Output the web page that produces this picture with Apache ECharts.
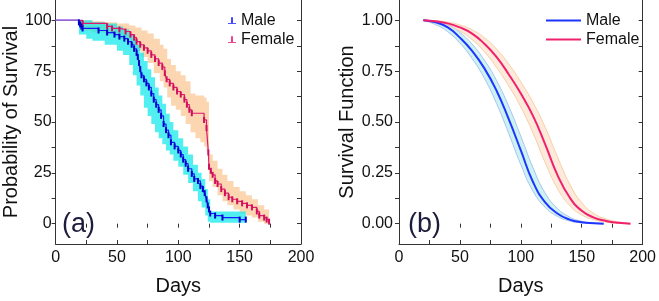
<!DOCTYPE html>
<html lang="en">
<head>
<meta charset="UTF-8">
<title>Survival</title>
<style>
html, body { margin: 0; padding: 0; background: #fff; }
#main { width: 659px; height: 301px; }
</style>
<script src="https://cdn.jsdelivr.net/npm/echarts@6/dist/echarts.min.js"></script>
</head>
<body>
<div id="main"></div>
<script>
// (a) Kaplan-Meier estimate, % surviving
var maleKmDays = [0, 19, 20, 21, 22, 35, 42, 48, 52, 56, 59, 62, 64, 66, 67, 68, 69, 70, 72, 74, 76, 78, 80, 82, 84, 86, 88, 90, 92, 94, 97, 100, 102, 104, 106, 108, 111, 113, 116, 118, 120, 121.5, 123, 124, 125, 126, 130, 136, 150, 155];
var maleKmVals = [100, 99, 98, 97, 96, 95, 94, 93, 92, 91, 89.5, 88, 86, 84, 82, 79, 76, 73, 71, 69, 67, 64, 61, 58.5, 56, 53, 49, 46, 43.5, 40, 38, 36, 34, 31.5, 29.5, 27, 24.5, 22, 21, 18.5, 17, 15, 12, 9, 7, 5, 4, 3, 2, 2];
var femKmDays = [0, 22, 42, 46, 52, 57, 61, 64, 66, 69, 72, 75, 78, 81, 84, 87, 89, 90.5, 93, 96, 99, 102, 105, 107, 109, 111, 121, 123, 124.5, 125, 126.5, 128, 130, 132, 135, 138, 141, 144, 148, 152, 156, 160, 164, 166, 170, 172, 174];
var femKmVals = [100, 98.5, 97, 96, 95.5, 94.5, 93, 91.5, 89.5, 88, 86.5, 85, 83, 81, 79, 77, 74, 71, 69, 67, 65, 63.5, 61, 58.5, 56, 54.3, 51, 47, 35, 28, 26, 24, 21, 19.5, 17, 15, 13, 12, 11, 10, 9, 8, 6, 4, 3, 2, 1];

// (a) confidence bands
var maleCiDays = [19, 25, 30, 40, 50, 55, 60, 63, 66, 69, 72, 75, 78, 81, 84, 87, 90, 93, 96, 100, 104, 108, 112, 116, 119, 122, 124, 126, 155];
var maleCiLo = [93, 91, 90, 88, 85, 83, 78, 73, 68, 63, 57, 53, 49, 45, 42, 39, 36, 34, 31, 28, 24, 20, 16, 11, 8, 4, 1, 0.5, 0.5];
var maleCiHi = [100, 100, 99, 98.5, 97, 95.5, 93, 91, 88, 84, 80, 76, 72, 67, 63, 59, 54, 50, 46, 42, 38, 34, 29, 25, 22, 17, 12, 6, 6];
var femCiDays = [20, 30, 40, 50, 60, 65, 70, 75, 80, 85, 88, 91, 94, 98, 102, 106, 110, 114, 118, 121, 123, 125, 128, 132, 136, 140, 145, 150, 155, 160, 165, 170, 174];
var femCiLo = [95, 94, 93, 91, 88, 85, 82, 79, 74, 70, 67, 62, 58, 56, 53, 49, 45, 42, 40, 38, 36, 21, 18, 14, 11, 9, 7, 5, 4, 3, 1, 0, 0];
var femCiHi = [100, 99.5, 99, 98.5, 97.5, 96.5, 95, 93.5, 91, 88, 86, 81, 78, 75, 73, 70, 64, 63, 63, 62, 60, 34, 31, 27, 24, 21, 18, 16, 14, 12, 9, 7, 7];

// (b) fitted survival function with bands
var maleFitDays = [20, 30, 40, 50, 60, 70, 80, 90, 100, 110, 120, 130, 140, 150, 160, 168];
var maleFit = [1.0, 0.99, 0.965, 0.915, 0.85, 0.765, 0.655, 0.515, 0.36, 0.205, 0.105, 0.05, 0.02, 0.007, 0.002, 0];
var maleFitHi = [1.0, 0.995, 0.978, 0.94, 0.883, 0.805, 0.705, 0.578, 0.43, 0.275, 0.15, 0.075, 0.033, 0.012, 0.004, 0.001];
var maleFitLo = [1.0, 0.979, 0.944, 0.888, 0.812, 0.716, 0.592, 0.445, 0.29, 0.16, 0.08, 0.036, 0.013, 0.004, 0.001, 0];
var femFitDays = [20, 30, 40, 50, 60, 70, 80, 90, 100, 110, 120, 130, 140, 150, 160, 170, 180, 190];
var femFit = [1.0, 0.995, 0.985, 0.965, 0.935, 0.885, 0.82, 0.735, 0.64, 0.53, 0.39, 0.24, 0.13, 0.063, 0.03, 0.013, 0.004, 0];
var femFitHi = [1.0, 0.998, 0.991, 0.977, 0.953, 0.915, 0.859, 0.786, 0.697, 0.596, 0.474, 0.33, 0.196, 0.103, 0.05, 0.023, 0.009, 0.0025];
var femFitLo = [1.0, 0.989, 0.973, 0.947, 0.905, 0.846, 0.769, 0.678, 0.574, 0.446, 0.3, 0.174, 0.09, 0.043, 0.02, 0.0075, 0.0016, 0];

// axis ticks
var xTicks = [0, 25, 50, 75, 100, 125, 150, 175, 200];
var xLabels = [0, 50, 100, 150, 200];
var yTicksA = [0, 12.5, 25, 37.5, 50, 62.5, 75, 87.5, 100];
var yLabelsA = [0, 25, 50, 75, 100];
var yTicksB = [0, 0.125, 0.25, 0.375, 0.5, 0.625, 0.75, 0.875, 1];
var yLabelsB = [0, 0.25, 0.5, 0.75, 1];

var font = '"Liberation Sans", Arial, sans-serif';
var ink = '#111';
var frame = '#333';

function zip(a, b) {
	return a.map(function (v, i) { return [v, b[i]]; });
}
function triples(d, lo, hi) {
	return d.map(function (v, i) { return [v, lo[i], hi[i]]; });
}

function axesFor(g, yMin, yMax, yTicks, yLabels, yFmt, yName, yGap, yMargin) {
	var xs = [{
		gridIndex: g, type: 'value', min: 0, max: 200, position: 'bottom',
		axisLine: { onZero: false, lineStyle: { color: frame, width: 1 } },
		axisTick: { inside: true, length: 4, customValues: xTicks, lineStyle: { color: frame } },
		axisLabel: { customValues: xLabels, margin: 6, fontSize: 16, color: ink, fontFamily: font },
		splitLine: { show: false },
		name: 'Days', nameLocation: 'middle', nameGap: 32,
		nameTextStyle: { fontSize: 20, color: ink, fontFamily: font }
	}, {
		gridIndex: g, type: 'value', min: 0, max: 200, position: 'top',
		axisLine: { show: false },
		axisTick: { inside: true, length: 4, customValues: xTicks, lineStyle: { color: frame } },
		axisLabel: { show: false },
		splitLine: { show: false }
	}];
	var ys = [{
		gridIndex: g, type: 'value', min: yMin, max: yMax, position: 'left',
		axisLine: { show: true, onZero: false, lineStyle: { color: frame, width: 1 } },
		axisTick: { show: true, inside: false, length: 4, customValues: yTicks, lineStyle: { color: frame } },
		axisLabel: { customValues: yLabels, formatter: yFmt, margin: yMargin, fontSize: 16, color: ink, fontFamily: font },
		splitLine: { show: false },
		name: yName, nameLocation: 'middle', nameGap: yGap,
		nameTextStyle: { fontSize: 20, color: ink, fontFamily: font }
	}, {
		gridIndex: g, type: 'value', min: yMin, max: yMax, position: 'right',
		axisLine: { show: true, onZero: false, lineStyle: { color: frame, width: 1 } },
		axisTick: { show: true, inside: true, length: 4, customValues: yTicks, lineStyle: { color: frame } },
		axisLabel: { show: false },
		splitLine: { show: false }
	}];
	return { x: xs, y: ys };
}

var axA = axesFor(0, -10, 110, yTicksA, yLabelsA, function (v) { return String(v); }, 'Probability of Survival', 29, 4);
var axB = axesFor(1, -0.1, 1.1, yTicksB, yLabelsB, function (v) { return v.toFixed(2); }, 'Survival Function', 37, 6);

// band as one filled polygon between lo and hi; step bands hold each value until the next day
function band(name, axis, d, lo, hi, fill, isStep) {
	return {
		name: name, type: 'custom', xAxisIndex: axis, yAxisIndex: axis, silent: true,
		encode: { x: 0, y: [1, 2] },
		data: triples(d, lo, hi),
		renderItem: function (params, api) {
			if (params.dataIndex !== 0) return null;
			var top = [], bot = [];
			for (var i = 0; i < d.length; i++) {
				top.push(api.coord([d[i], hi[i]]));
				bot.push(api.coord([d[i], lo[i]]));
				if (isStep && i < d.length - 1) {
					top.push(api.coord([d[i + 1], hi[i]]));
					bot.push(api.coord([d[i + 1], lo[i]]));
				}
			}
			return {
				type: 'polygon',
				shape: { points: top.concat(bot.reverse()), smooth: isStep ? 0 : 0.25 },
				style: { fill: fill }
			};
		}
	};
}

function kmLine(name, d, v, color, mark) {
	var pts = zip(d, v).map(function (p, i) {
		return i === 0 ? { value: p, symbol: 'none' } : { value: p };
	});
	return {
		name: name, type: 'line', xAxisIndex: 0, yAxisIndex: 0, step: 'end',
		symbol: 'rect', symbolSize: [2, 6], showAllSymbol: true,
		itemStyle: { color: mark }, lineStyle: { color: color, width: 1.2 },
		data: pts
	};
}

function fitLine(name, d, v, color, width) {
	return {
		name: name, type: 'line', xAxisIndex: 2, yAxisIndex: 2, smooth: 0.5,
		symbol: 'none', silent: true,
		lineStyle: { color: color, width: width }, itemStyle: { color: color },
		data: zip(d, v)
	};
}

var series = [
	band('femCi', 0, femCiDays, femCiLo, femCiHi, 'rgba(250,200,150,0.75)', true),
	band('maleCi', 0, maleCiDays, maleCiLo, maleCiHi, 'rgba(0,232,235,0.68)', true),
	kmLine('Female', femKmDays, femKmVals, '#e0176c', '#d0105e'),
	kmLine('Male', maleKmDays, maleKmVals, '#1a1aff', '#0000cc'),
	{
		name: 'both', type: 'line', xAxisIndex: 0, yAxisIndex: 0, symbol: 'none', silent: true,
		lineStyle: { color: '#9466dc', width: 1.2 },
		data: [[maleKmDays[0], maleKmVals[0]], [maleKmDays[1], maleKmVals[0]]]
	},
	band('maleFitCi', 2, maleFitDays, maleFitLo, maleFitHi, '#cdf2f2', false),
	band('femFitCi', 2, femFitDays, femFitLo, femFitHi, '#fdeadb', false),
	fitLine('maleFitLo', maleFitDays, maleFitLo, '#aac4f2', 1),
	fitLine('maleFitHi', maleFitDays, maleFitHi, '#aac4f2', 1),
	fitLine('femFitLo', femFitDays, femFitLo, '#f8cfa8', 1),
	fitLine('femFitHi', femFitDays, femFitHi, '#f8cfa8', 1),
	fitLine('Male', maleFitDays, maleFit, '#1f35ff', 2),
	fitLine('Female', femFitDays, femFit, '#f0206e', 2)
];

var tickIcon = 'path://M0,9h10v1H0z M4,2h2v8H4z';

var option = {
	animation: false,
	backgroundColor: '#fff',
	textStyle: { fontFamily: font },
	grid: [
		{ left: 55, top: 0, width: 246, height: 247 },
		{ left: 399, top: 0, width: 246, height: 247 }
	],
	xAxis: axA.x.concat(axB.x),
	yAxis: axA.y.concat(axB.y),
	legend: [{
		left: 223, top: 7, orient: 'vertical', itemGap: 2, selectedMode: false,
		itemWidth: 8, itemHeight: 8,
		textStyle: { fontSize: 16, lineHeight: 17, color: ink, fontFamily: font },
		data: [
			{ name: 'Male', icon: tickIcon, itemStyle: { color: '#1a1aff' } },
			{ name: 'Female', icon: tickIcon, itemStyle: { color: '#e0176c' } }
		]
	}, {
		left: 541, top: 7, orient: 'vertical', itemGap: 2, selectedMode: false,
		itemWidth: 35, itemHeight: 2,
		textStyle: { fontSize: 16, lineHeight: 17, color: ink, fontFamily: font },
		data: [
			{ name: 'Male', icon: 'rect', itemStyle: { color: '#1f35ff' } },
			{ name: 'Female', icon: 'rect', itemStyle: { color: '#f0206e' } }
		]
	}],
	graphic: [
		{ type: 'text', x: 62, y: 225, style: { text: '(a)', font: '27px ' + font, fill: '#1c1c3c', verticalAlign: 'middle' } },
		{ type: 'text', x: 408, y: 225, style: { text: '(b)', font: '27px ' + font, fill: '#1c1c3c', verticalAlign: 'middle' } }
	],
	series: series
};

var myChart = echarts.init(document.getElementById('main'), null, { renderer: 'canvas' });
myChart.setOption(option);
</script>
</body>
</html>
